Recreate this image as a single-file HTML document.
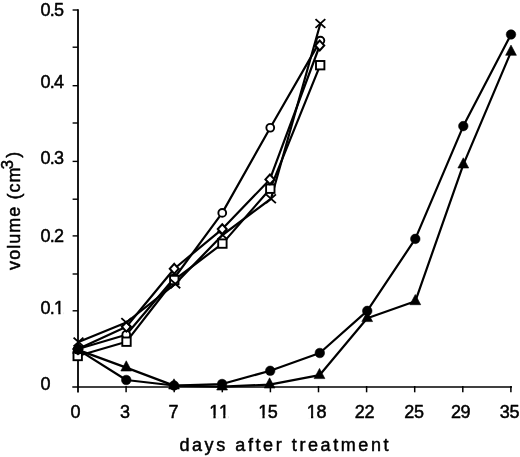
<!DOCTYPE html>
<html><head><meta charset="utf-8"><title>chart</title>
<style>html,body{margin:0;padding:0;background:#fff}svg{display:block}</style></head>
<body>
<svg width="520" height="457" viewBox="0 0 520 457">
<rect width="520" height="457" fill="#fff"/>
<g stroke="#000" stroke-width="1.6" fill="none" stroke-linecap="butt">
<line x1="78" y1="9.3" x2="78" y2="392.5" stroke-width="1.8"/>
<line x1="72.3" y1="387" x2="512" y2="387"/>
<line x1="72.6" y1="10.00" x2="78" y2="10.00" stroke-width="1.4"/>
<line x1="72.6" y1="47.20" x2="78" y2="47.20" stroke-width="1.4"/>
<line x1="72.6" y1="85.70" x2="78" y2="85.70" stroke-width="1.4"/>
<line x1="72.6" y1="123.00" x2="78" y2="123.00" stroke-width="1.4"/>
<line x1="72.6" y1="161.40" x2="78" y2="161.40" stroke-width="1.4"/>
<line x1="72.6" y1="199.20" x2="78" y2="199.20" stroke-width="1.4"/>
<line x1="72.6" y1="235.90" x2="78" y2="235.90" stroke-width="1.4"/>
<line x1="72.6" y1="274.00" x2="78" y2="274.00" stroke-width="1.4"/>
<line x1="72.6" y1="310.80" x2="78" y2="310.80" stroke-width="1.4"/>
<line x1="72.6" y1="349.00" x2="78" y2="349.00" stroke-width="1.4"/>
<line x1="126.10" y1="386" x2="126.10" y2="392.3" stroke-width="1.5"/>
<line x1="174.20" y1="386" x2="174.20" y2="392.3" stroke-width="1.5"/>
<line x1="222.30" y1="386" x2="222.30" y2="392.3" stroke-width="1.5"/>
<line x1="270.40" y1="386" x2="270.40" y2="392.3" stroke-width="1.5"/>
<line x1="318.50" y1="386" x2="318.50" y2="392.3" stroke-width="1.5"/>
<line x1="366.60" y1="386" x2="366.60" y2="392.3" stroke-width="1.5"/>
<line x1="414.70" y1="386" x2="414.70" y2="392.3" stroke-width="1.5"/>
<line x1="462.80" y1="386" x2="462.80" y2="392.3" stroke-width="1.5"/>
<line x1="510.90" y1="386" x2="510.90" y2="392.3" stroke-width="1.5"/>
</g>
<g stroke="#000" stroke-width="2.2" fill="none" stroke-linejoin="round">
<polyline points="78,349.00 126.25,334.80 174.3,278.00 222.25,212.90 270.25,127.75 320.4,40.60"/>
<polyline points="78,349.00 126.35,326.70 174.25,268.75 222.25,229.10 269.9,179.40 319.75,45.50"/>
<polyline points="77.7,356.00 126.5,341.70 174.3,280.00 222.4,243.60 270.3,188.70 320.2,65.20"/>
<polyline points="78.5,342.00 126.25,322.50 175.3,283.80 222.5,235.00 271,198.75 320.4,23.50"/>
<polyline points="78,349.60 126.25,380.00 174,385.50 222.1,384.00 270.2,370.80 319.8,353.00 367.25,310.90 415.3,238.90 463.3,126.10 511,34.50"/>
<polyline points="78,349.90 126.25,367.60 174,385.60 222.1,386.60 269.6,384.60 319.5,375.20 367.2,318.20 415.3,301.30 463.3,164.60 511,51.90"/>
</g>
<g stroke="#000" stroke-width="1.9">
<polygon points="78,343.1 83.4,353.3 72.6,353.3" fill="#000" stroke-width="0.6"/>
<polygon points="126.25,360.8 131.65,371 120.85,371" fill="#000" stroke-width="0.6"/>
<polygon points="174,378.8 179.4,389 168.6,389" fill="#000" stroke-width="0.6"/>
<polygon points="222.1,379.8 227.5,390 216.7,390" fill="#000" stroke-width="0.6"/>
<polygon points="269.6,377.8 275.0,388 264.20000000000005,388" fill="#000" stroke-width="0.6"/>
<polygon points="319.5,368.40000000000003 324.9,378.6 314.1,378.6" fill="#000" stroke-width="0.6"/>
<polygon points="367.2,311.40000000000003 372.59999999999997,321.6 361.8,321.6" fill="#000" stroke-width="0.6"/>
<polygon points="415.3,294.5 420.7,304.7 409.90000000000003,304.7" fill="#000" stroke-width="0.6"/>
<polygon points="463.3,157.8 468.7,168 457.90000000000003,168" fill="#000" stroke-width="0.6"/>
<polygon points="511,45.099999999999994 516.4,55.3 505.6,55.3" fill="#000" stroke-width="0.6"/>
<circle cx="78" cy="349.6" r="4.8" fill="#000" stroke-width="0.5"/>
<circle cx="126.25" cy="380" r="4.8" fill="#000" stroke-width="0.5"/>
<circle cx="174" cy="385.5" r="4.8" fill="#000" stroke-width="0.5"/>
<circle cx="222.1" cy="384" r="4.8" fill="#000" stroke-width="0.5"/>
<circle cx="270.2" cy="370.8" r="4.8" fill="#000" stroke-width="0.5"/>
<circle cx="319.8" cy="353" r="4.8" fill="#000" stroke-width="0.5"/>
<circle cx="367.25" cy="310.9" r="4.8" fill="#000" stroke-width="0.5"/>
<circle cx="415.3" cy="238.9" r="4.8" fill="#000" stroke-width="0.5"/>
<circle cx="463.3" cy="126.1" r="4.8" fill="#000" stroke-width="0.5"/>
<circle cx="511" cy="34.5" r="4.8" fill="#000" stroke-width="0.5"/>
<circle cx="78" cy="349" r="3.9" fill="#fff"/>
<circle cx="126.25" cy="334.8" r="3.9" fill="#fff"/>
<circle cx="174.3" cy="278" r="3.9" fill="#fff"/>
<circle cx="222.25" cy="212.9" r="3.9" fill="#fff"/>
<circle cx="270.25" cy="127.75" r="3.9" fill="#fff"/>
<circle cx="320.4" cy="40.6" r="3.9" fill="#fff"/>
<rect x="73.50" y="351.80" width="8.4" height="8.4" fill="#fff"/>
<rect x="122.30" y="337.50" width="8.4" height="8.4" fill="#fff"/>
<rect x="170.10" y="275.80" width="8.4" height="8.4" fill="#fff"/>
<rect x="218.20" y="239.40" width="8.4" height="8.4" fill="#fff"/>
<rect x="266.10" y="184.50" width="8.4" height="8.4" fill="#fff"/>
<rect x="316.00" y="61.00" width="8.4" height="8.4" fill="#fff"/>
<polygon points="78,344.1 82.5,349 78,353.9 73.5,349" fill="#fff" stroke-width="2"/>
<polygon points="126.35,321.8 130.85,326.7 126.35,331.59999999999997 121.85,326.7" fill="#fff" stroke-width="2"/>
<polygon points="174.25,263.85 178.75,268.75 174.25,273.65 169.75,268.75" fill="#fff" stroke-width="2"/>
<polygon points="222.25,224.2 226.75,229.1 222.25,234.0 217.75,229.1" fill="#fff" stroke-width="2"/>
<polygon points="269.9,174.5 274.4,179.4 269.9,184.3 265.4,179.4" fill="#fff" stroke-width="2"/>
<polygon points="319.75,40.6 324.25,45.5 319.75,50.4 315.25,45.5" fill="#fff" stroke-width="2"/>
<path d="M73.6,337.6L83.4,346.4M73.6,346.4L83.4,337.6" fill="none" stroke-width="1.9"/>
<path d="M121.35,318.1L131.15,326.9M121.35,326.9L131.15,318.1" fill="none" stroke-width="1.9"/>
<path d="M170.4,279.40000000000003L180.20000000000002,288.2M170.4,288.2L180.20000000000002,279.40000000000003" fill="none" stroke-width="1.9"/>
<path d="M217.6,230.6L227.4,239.4M217.6,239.4L227.4,230.6" fill="none" stroke-width="1.9"/>
<path d="M266.1,194.35L275.9,203.15M266.1,203.15L275.9,194.35" fill="none" stroke-width="1.9"/>
<path d="M315.5,19.1L325.29999999999995,27.9M315.5,27.9L325.29999999999995,19.1" fill="none" stroke-width="1.9"/>
</g>
<polygon points="78,342.8 83.4,353.3 72.6,353.3" fill="#000"/>
<circle cx="78" cy="349.6" r="5" fill="#000"/>
<g font-family="'Liberation Sans', Arial, Helvetica, sans-serif" font-size="18" style="font-kerning:none" fill="#000" stroke="#000" stroke-width="0.5" stroke-linejoin="round">
<text x="40.6" y="15.55" letter-spacing="-0.75">0.5</text>
<text x="40.6" y="88.40" letter-spacing="-0.75">0.4</text>
<text x="40.6" y="164.30" letter-spacing="-0.75">0.3</text>
<text x="40.6" y="241.55" letter-spacing="-0.75">0.2</text>
<text x="40.6" y="314.30" letter-spacing="-0.75">0.1</text>
<text x="40.6" y="389.90" letter-spacing="-0.75">0</text>
<text x="70.6" y="417.7" letter-spacing="-0.4">0</text>
<text x="120" y="417.7" letter-spacing="-0.4">3</text>
<text x="168.5" y="417.7" letter-spacing="-0.4">7</text>
<text x="209.2 219.0" y="417.7" letter-spacing="-0.4">11</text>
<text x="258.2" y="417.7" letter-spacing="-0.4">15</text>
<text x="306.8" y="417.7" letter-spacing="-0.4">18</text>
<text x="354.8" y="417.7" letter-spacing="-0.4">22</text>
<text x="404.3" y="417.7" letter-spacing="-0.4">25</text>
<text x="451" y="417.7" letter-spacing="-0.4">29</text>
<text x="499.8" y="417.7" letter-spacing="-0.4">35</text>
<text x="179.4" y="451" letter-spacing="2.58">days after treatment</text>
<text transform="translate(19.5,269.9) rotate(-90)" letter-spacing="1.05">volume (cm<tspan font-size="16.5" dy="-6.6" dx="-2.9">3</tspan><tspan dy="5.8" dx="1.2">)</tspan></text>
</g>
<rect x="54.30" y="311.90" width="4.0" height="3.6" fill="#fff"/>
<rect x="60.55" y="311.90" width="3.3" height="3.6" fill="#fff"/>
<rect x="209.40" y="415.30" width="4.0" height="3.6" fill="#fff"/>
<rect x="215.65" y="415.30" width="3.3" height="3.6" fill="#fff"/>
<rect x="219.20" y="415.30" width="4.0" height="3.6" fill="#fff"/>
<rect x="225.45" y="415.30" width="3.3" height="3.6" fill="#fff"/>
<rect x="258.40" y="415.30" width="4.0" height="3.6" fill="#fff"/>
<rect x="264.65" y="415.30" width="3.3" height="3.6" fill="#fff"/>
<rect x="307.00" y="415.30" width="4.0" height="3.6" fill="#fff"/>
<rect x="313.25" y="415.30" width="3.3" height="3.6" fill="#fff"/>
</svg>
</body></html>
